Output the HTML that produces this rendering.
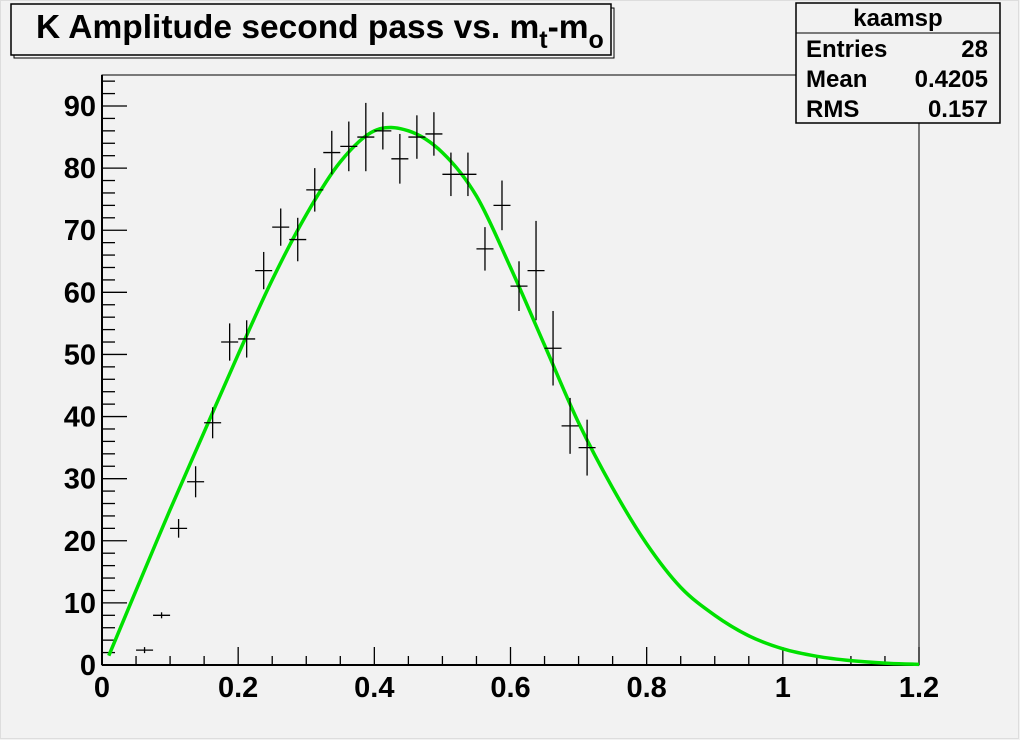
<!DOCTYPE html>
<html><head><meta charset="utf-8"><style>
body{margin:0;background:#f2f2f2;}
svg{display:block;font-family:"Liberation Sans",Arial,sans-serif;font-weight:bold;}
</style></head><body>
<svg id="c" width="1020" height="740" viewBox="0 0 1020 740">
<rect x="0" y="0" width="1020" height="740" fill="#f2f2f2"/>
<rect x="0.5" y="0.5" width="1018" height="738" fill="none" stroke="#ddd"/>
<g id="plot"></g>
<g>
<rect x="14" y="8" width="600" height="50" fill="#f5f5f5" stroke="#000" stroke-width="1" />
<rect x="11" y="4" width="600" height="51" fill="#f2f2f2" stroke="#000" stroke-width="1.5"/>
<text x="36" y="38" style="font-size:33.5px">K Amplitude second pass vs. m<tspan style="font-size:25px" dy="10">t</tspan><tspan dy="-10">-m</tspan><tspan style="font-size:25px" dy="10">o</tspan></text>
</g>
<g>
<rect x="796" y="3" width="204" height="120" fill="#f2f2f2" stroke="#000" stroke-width="1.5"/>
<line x1="796" y1="33" x2="1000" y2="33" stroke="#000"/>
<text x="898" y="26" style="font-size:24px" text-anchor="middle">kaamsp</text>
<text x="806" y="57" style="font-size:24px">Entries</text>
<text x="988" y="57" style="font-size:24px" text-anchor="end">28</text>
<text x="806" y="87" style="font-size:24px">Mean</text>
<text x="988" y="87" style="font-size:24px" text-anchor="end">0.4205</text>
<text x="806" y="117" style="font-size:24px">RMS</text>
<text x="988" y="117" style="font-size:24px" text-anchor="end">0.157</text>
</g>
</svg>
<script>
const binCenters=[0.0625,0.0875,0.1125,0.1375,0.1625,0.1875,0.2125,0.2375,0.2625,0.2875,0.3125,0.3375,0.3625,0.3875,0.4125,0.4375,0.4625,0.4875,0.5125,0.5375,0.5625,0.5875,0.6125,0.6375,0.6625,0.6875,0.7125];
const binValues=[2.4,8,22,29.5,39,52,52.5,63.5,70.5,68.5,76.5,82.5,83.5,85,86,81.5,85,85.5,79,79,67,74,61,63.5,51,38.5,35];
const binErrors=[0,0,1.5,2.5,2.5,3,3,3,3,3.5,3.5,3.5,4,5.5,3,4,3.5,3.5,3.5,3.5,3.5,4,4,8,6,4.5,4.5];
const fitX=[0.01,0.05,0.1,0.15,0.2,0.25,0.3,0.35,0.4,0.45,0.5,0.55,0.6,0.65,0.7,0.75,0.8,0.85,0.9,0.95,1.0,1.05,1.1,1.15,1.2];
const fitY=[1.5,12,25,37.5,50,62,72.5,81,86,86,82.5,75.5,64,51.5,39,28.5,19.5,12.5,8,4.7,2.6,1.4,0.7,0.3,0.1];
const xTicks=[0,0.2,0.4,0.6,0.8,1,1.2];
const yTicks=[0,10,20,30,40,50,60,70,80,90];
const X0=102,X1=919,Y0=665,Y90=106,YT=75;
const sx=v=>X0+(X1-X0)*v/1.2;
const sy=v=>Y0-(Y0-Y90)*v/90;
const NS='http://www.w3.org/2000/svg';
const g=document.getElementById('plot');
function mk(t,a,p){const e=document.createElementNS(NS,t);for(const k in a)e.setAttribute(k,a[k]);(p||g).appendChild(e);return e;}
const fr=mk('rect',{x:X0,y:YT,width:X1-X0,height:Y0-YT,fill:'none',stroke:'#000','stroke-width':1});


const ax=mk('g',{});


mk('line',{x1:X0,y1:Y0,x2:X1,y2:Y0,stroke:'#000','stroke-width':2},ax);
for(let i=0;i<=24;i++){const v=i*0.05,x=sx(v),L=(i%4==0)?18:9;mk('line',{x1:x,y1:Y0,x2:x,y2:Y0-L,stroke:'#000','stroke-width':1.3},ax);}
xTicks.forEach(v=>{const t=mk('text',{x:sx(v),y:Y0+32,'text-anchor':'middle',style:'font-size:29px'},ax);t.textContent=String(v);

});
const ay=mk('g',{});


mk('line',{x1:X0,y1:Y0,x2:X0,y2:YT,stroke:'#000','stroke-width':2},ay);
for(let v=0;v<=94;v+=2){const y=sy(v),L=(v%10==0)?25:13;mk('line',{x1:X0,y1:y,x2:X0+L,y2:y,stroke:'#000','stroke-width':1.3},ay);}
yTicks.forEach(v=>{const t=mk('text',{x:X0-6,y:sy(v)+10,'text-anchor':'end',style:'font-size:29px'},ay);t.textContent=String(v);

});
let pts=fitX.map((x,i)=>[sx(x),sy(fitY[i])]);
let d='M'+pts[0].join(',');
for(let i=0;i<pts.length-1;i++){const p0=pts[Math.max(0,i-1)],p1=pts[i],p2=pts[i+1],p3=pts[Math.min(pts.length-1,i+2)];
d+=` C${p1[0]+(p2[0]-p0[0])/6},${p1[1]+(p2[1]-p0[1])/6} ${p2[0]-(p3[0]-p1[0])/6},${p2[1]-(p3[1]-p1[1])/6} ${p2[0]},${p2[1]}`;}
const fit=mk('path',{d:d,fill:'none',stroke:'#00e000','stroke-width':3.5,'stroke-linejoin':'round'});


const hw=(X1-X0)*0.0125/1.2;
binCenters.forEach((c,i)=>{const pg=mk('g',{stroke:'#000','stroke-width':1.3});


const x=sx(c),y=sy(binValues[i]);
mk('line',{x1:x-hw,y1:y,x2:x+hw,y2:y},pg);
const e=binErrors[i];
mk('line',{x1:x,y1:sy(binValues[i]+e)-(e?0:3),x2:x,y2:sy(binValues[i]-e)+(e?0:3)},pg);});
</script>
</body></html>
